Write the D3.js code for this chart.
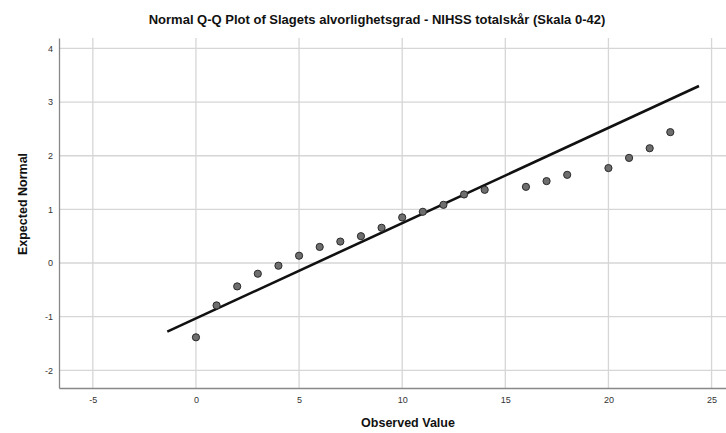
<!DOCTYPE html>
<html>
<head>
<meta charset="utf-8">
<script src="https://cdn.jsdelivr.net/npm/d3@7"></script>
<style>
  body { margin: 0; background: #fff; }
  svg { display: block; font-family: "Liberation Sans", Arial, sans-serif; }
</style>
</head>
<body>
<div id="chart"></div>
<script>
// observed values and their expected normal quantiles
const observed = [0, 1, 2, 3, 4, 5, 6, 7, 8, 9, 10, 11, 12, 13, 14, 16, 17, 18, 20, 21, 22, 23]
const expected = [-1.385, -0.79, -0.436, -0.2, -0.05, 0.136, 0.30, 0.40, 0.50, 0.657, 0.85, 0.955,
  1.085, 1.278, 1.365, 1.42, 1.527, 1.644, 1.77, 1.96, 2.14, 2.44]
// reference line end points
const refX = [-1.39, 24.39]
const refY = [-1.28, 3.30]
const xTicks = [-5, 0, 5, 10, 15, 20, 25]
const yTicks = [-2, -1, 0, 1, 2, 3, 4]

const width = 726
const height = 433
const margin = {top: 38, right: 0, bottom: 45, left: 59}

const svg = d3.select("#chart")
  .append("svg")
  .attr("width", width)
  .attr("height", height)

const xScale = d3.scaleLinear()
  .domain([-6.64, 25.7])
  .range([margin.left, width - margin.right])

const yScale = d3.scaleLinear()
  .domain([-2.33, 4.195])
  .range([height - margin.bottom, margin.top])

// grid
svg.append("g")
  .selectAll("line")
  .data(xTicks)
  .join("line")
  .attr("x1", d => xScale(d))
  .attr("x2", d => xScale(d))
  .attr("y1", margin.top)
  .attr("y2", height - margin.bottom)
  .attr("stroke", "#d6d6d6")
  .attr("stroke-width", 1.3)

svg.append("g")
  .selectAll("line")
  .data(yTicks)
  .join("line")
  .attr("x1", margin.left)
  .attr("x2", width - margin.right)
  .attr("y1", d => yScale(d))
  .attr("y2", d => yScale(d))
  .attr("stroke", "#d6d6d6")
  .attr("stroke-width", 1.3)

// axes (plain hyphen for negatives, like the original)
const fmt = d => String(d)

const xAxis = svg.append("g")
  .attr("transform", "translate(0," + (height - margin.bottom) + ")")
  .call(d3.axisBottom(xScale).tickValues(xTicks).tickFormat(fmt).tickSize(0).tickPadding(9))
xAxis.select(".domain").attr("stroke", "#888").attr("stroke-width", 1.3)

const yAxis = svg.append("g")
  .attr("transform", "translate(" + margin.left + ",0)")
  .call(d3.axisLeft(yScale).tickValues(yTicks).tickFormat(fmt).tickSize(0).tickPadding(6))
yAxis.select(".domain").attr("stroke", "#888").attr("stroke-width", 1.3)

svg.selectAll(".tick text")
  .attr("font-family", "Liberation Sans, Arial, sans-serif")
  .attr("font-size", 9)
  .attr("fill", "#333")

// reference line
const line = d3.line()
  .x(d => xScale(d[0]))
  .y(d => yScale(d[1]))

svg.append("path")
  .datum(refX.map((x, i) => [x, refY[i]]))
  .attr("fill", "none")
  .attr("stroke", "#111")
  .attr("stroke-width", 2.6)
  .attr("d", line)

// points
svg.append("g")
  .selectAll("circle")
  .data(observed.map((x, i) => [x, expected[i]]))
  .join("circle")
  .attr("cx", d => xScale(d[0]))
  .attr("cy", d => yScale(d[1]))
  .attr("r", 3.6)
  .attr("fill", "#6e6e6e")
  .attr("stroke", "#2a2a2a")
  .attr("stroke-width", 1)

// labels
svg.append("text")
  .attr("x", 377)
  .attr("y", 24)
  .attr("text-anchor", "middle")
  .attr("font-size", 13)
  .attr("font-weight", "bold")
  .attr("fill", "#111")
  .text("Normal Q-Q Plot of Slagets alvorlighetsgrad - NIHSS totalskår (Skala 0-42)")

svg.append("text")
  .attr("x", 408)
  .attr("y", 427)
  .attr("text-anchor", "middle")
  .attr("font-size", 12.5)
  .attr("font-weight", "bold")
  .attr("fill", "#111")
  .text("Observed Value")

svg.append("text")
  .attr("transform", "translate(27,204) rotate(-90)")
  .attr("text-anchor", "middle")
  .attr("font-size", 12.5)
  .attr("font-weight", "bold")
  .attr("fill", "#111")
  .text("Expected Normal")
</script>
</body>
</html>
